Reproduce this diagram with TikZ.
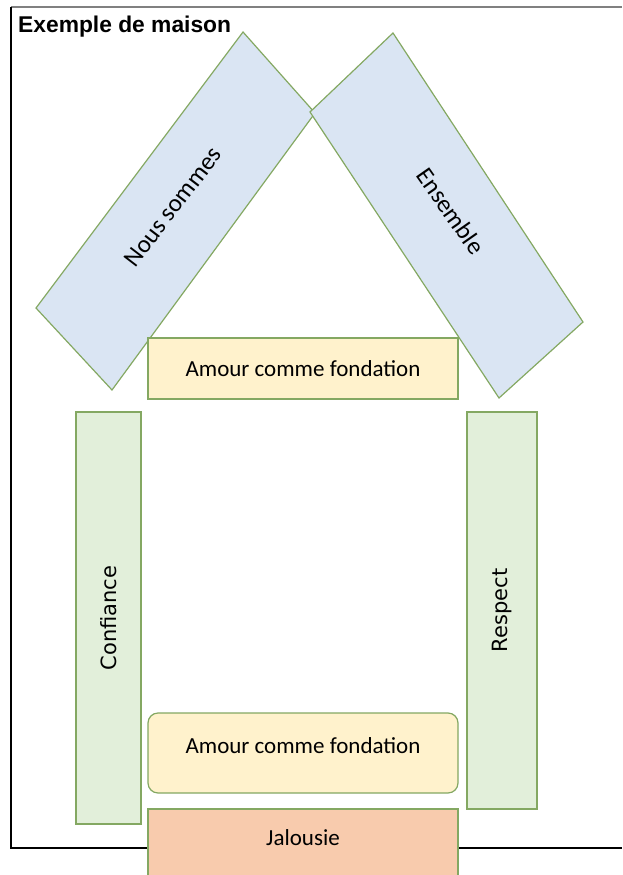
\documentclass[tikz,border=0pt]{standalone}
\usepackage{fontspec}
\setmainfont{Carlito}
\newfontfamily\titlefont{Liberation Sans}
\newfontfamily\pillarfont{DejaVu Sans}
\usepackage{xcolor}
\definecolor{houseedge}{HTML}{84A862}
\definecolor{roofblue}{HTML}{DAE5F3}
\definecolor{beamyellow}{HTML}{FFF2CC}
\definecolor{pillargreen}{HTML}{E2EFDA}
\definecolor{jealousred}{HTML}{F8CBAD}
\usepackage{tikz}
\usetikzlibrary{positioning}

\begin{document}
\begin{tikzpicture}[
  x=1pt, y=-1pt,
  part/.style={
    draw=houseedge,
    line width=1.2pt,
    inner sep=0pt,
    align=center,
    font=\fontsize{23}{26}\selectfont,
  },
  roofshape/.style={
    draw=houseedge,
    fill=roofblue,
    line width=1.2pt,
  },
  rooftext/.style={
    inner sep=0pt,
    font=\fontsize{25}{28}\selectfont,
  },
  beam/.style={
    part,
    fill=beamyellow,
    minimum width=310pt,
  },
  pillar/.style={
    part,
    fill=pillargreen,
    rotate=90,
    font=\pillarfont\fontsize{21}{24}\selectfont,
  },
  frameline/.style={
    line width=1.1pt,
  },
  titletext/.style={
    font=\titlefont\bfseries\fontsize{22.8}{26}\selectfont,
    inner sep=0pt,
  },
]

\useasboundingbox (0,0) rectangle (622,875);

% --- page frame ---
\coordinate (frameTL) at (11,7);
\coordinate (frameTR) at (622,7);
\coordinate (frameBL) at (11,848);
\coordinate (frameBR) at (622,848);
\draw[frameline, draw=gray] (frameTL) -- (frameTR);
\draw[frameline] (frameTL) -- (frameBL) -- (frameBR);

% =============================================================================
% Roof
% =============================================================================
\coordinate (nousN) at (243,32);
\coordinate (nousE) at (315,113);
\coordinate (nousS) at (112,390);
\coordinate (nousW) at (36,308);
\draw[roofshape] (nousN) -- (nousE) -- (nousS) -- (nousW) -- cycle;
\node[rooftext, rotate=52.5] (nous) at (173,207) {Nous sommes};

\coordinate (ensN) at (393,33);
\coordinate (ensE) at (583,322);
\coordinate (ensS) at (499,398);
\coordinate (ensW) at (310,112);
\draw[roofshape] (ensN) -- (ensE) -- (ensS) -- (ensW) -- cycle;
\node[rooftext, rotate=-55] (ensemble) at (451,211) {Ensemble};

\node[beam, minimum height=61pt] (roofbeam) at (303,368.5) {Amour comme fondation};

% =============================================================================
% Walls and foundation
% =============================================================================
\node[pillar, minimum width=412pt, minimum height=65pt] (confiance) at (108.5,618) {Confiance};
\node[pillar, minimum width=397pt, minimum height=70pt] (respect) at (502,610.5) {Respect};

\node[beam, rounded corners=10pt, minimum height=80pt,
      text height=16pt, text depth=16pt] (floor) at (303,753) {Amour comme fondation};

\node[beam, fill=jealousred, minimum height=80pt,
      text height=16pt, text depth=24pt] (jalousie) at (303,849) {Jalousie};

% --- title ---
\node[titletext, anchor=base west] (title) at (18,33) {Exemple de maison};

\end{tikzpicture}
\end{document}
